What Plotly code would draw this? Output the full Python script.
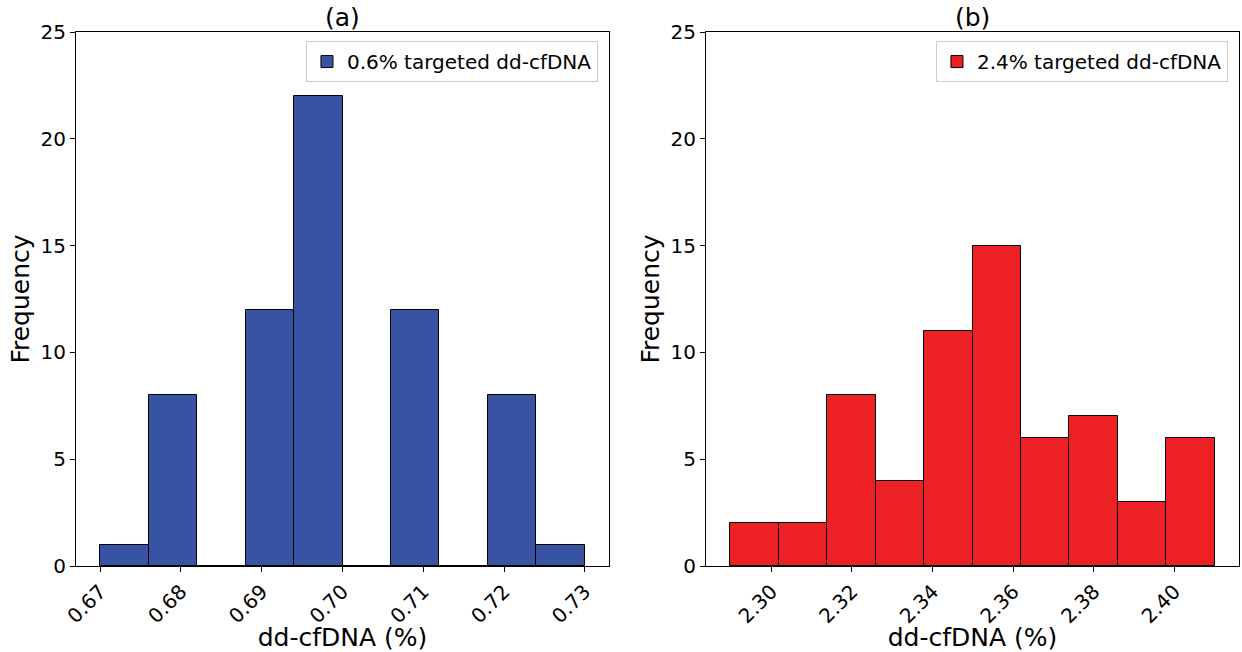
import numpy as np
import plotly.graph_objects as go
from plotly.subplots import make_subplots

# Data
counts_a = [1, 8, 0, 12, 22, 0, 12, 0, 8, 1]
bin_start_a, bin_end_a = 0.67, 0.73
counts_b = [2, 2, 8, 4, 11, 15, 6, 7, 3, 6]
bin_start_b, bin_end_b = 2.2898, 2.4100
label_a = "0.6% targeted dd-cfDNA"
label_b = "2.4% targeted dd-cfDNA"
ticks_a = [0.67, 0.68, 0.69, 0.70, 0.71, 0.72, 0.73]
ticks_b = [2.30, 2.32, 2.34, 2.36, 2.38, 2.40]
yticks = [0, 5, 10, 15, 20, 25]

color_a = "#3953A4"
color_b = "#ED2024"

def centers_width(start, end, n):
    edges = np.linspace(start, end, n + 1)
    return (edges[:-1] + edges[1:]) / 2, (end - start) / n

xa, wa = centers_width(bin_start_a, bin_end_a, len(counts_a))
xb, wb = centers_width(bin_start_b, bin_end_b, len(counts_b))

fig = make_subplots(rows=1, cols=2, horizontal_spacing=0.0834)
fig.add_trace(go.Bar(x=xa, y=counts_a, width=wa, name=label_a, showlegend=True,
                     marker=dict(color=color_a, line=dict(color="black", width=1)),
                     legend="legend"), row=1, col=1)
fig.add_trace(go.Bar(x=xb, y=counts_b, width=wb, name=label_b, showlegend=True,
                     marker=dict(color=color_b, line=dict(color="black", width=1)),
                     legend="legend2"), row=1, col=2)

font_family = "DejaVu Sans"
tickfont = dict(family=font_family, size=20, color="black")
titlefont = dict(family=font_family, size=25, color="black")

def pad(s, e):
    m = (e - s) * 0.05
    return [s - m, e + m]

axis_common = dict(showline=True, linecolor="black", linewidth=1, mirror=True,
                   ticks="outside", ticklen=5, tickcolor="black", showgrid=False,
                   zeroline=False, tickfont=tickfont, automargin=False)

fig.update_xaxes(**axis_common, tickangle=-45)
fig.update_yaxes(**axis_common, range=[0, 25], tickvals=yticks)

fig.update_xaxes(range=pad(bin_start_a, bin_end_a), tickvals=ticks_a,
                 ticktext=[f"{t:.2f}" for t in ticks_a],
                 title=dict(text="dd-cfDNA (%)", font=titlefont, standoff=0), row=1, col=1)
fig.update_xaxes(range=pad(bin_start_b, bin_end_b), tickvals=ticks_b,
                 ticktext=[f"{t:.2f}" for t in ticks_b],
                 title=dict(text="dd-cfDNA (%)", font=titlefont, standoff=0), row=1, col=2)
fig.update_yaxes(title=dict(text="Frequency", font=titlefont, standoff=3), row=1, col=1)
fig.update_yaxes(title=dict(text="Frequency", font=titlefont, standoff=3), row=1, col=2)

legend_common = dict(bgcolor="white", bordercolor="#cccccc", borderwidth=1,
                     font=dict(family=font_family, size=20, color="black"),
                     xanchor="right", yanchor="top", visible=True)
fig.update_layout(
    showlegend=True,
    legend=dict(**legend_common, x=0.4488, y=0.983),
    legend2=dict(**legend_common, x=0.9905, y=0.983),
    bargap=0,
    width=1242, height=652,
    margin=dict(l=76, r=3, t=32, b=86, autoexpand=False),
    plot_bgcolor="white", paper_bgcolor="white",
    font=dict(family=font_family, color="black"),
)

dom_a = fig.layout.xaxis.domain
dom_b = fig.layout.xaxis2.domain
for txt, dom in (("(a)", dom_a), ("(b)", dom_b)):
    fig.add_annotation(text=txt, x=(dom[0] + dom[1]) / 2, y=1, xref="paper", yref="paper",
                       xanchor="center", yanchor="bottom", showarrow=False,
                       font=titlefont, yshift=-2)

fig.write_html("out.html", config={"displayModeBar": False},
               post_script="document.body.style.margin='0';document.body.style.overflow='hidden';")
